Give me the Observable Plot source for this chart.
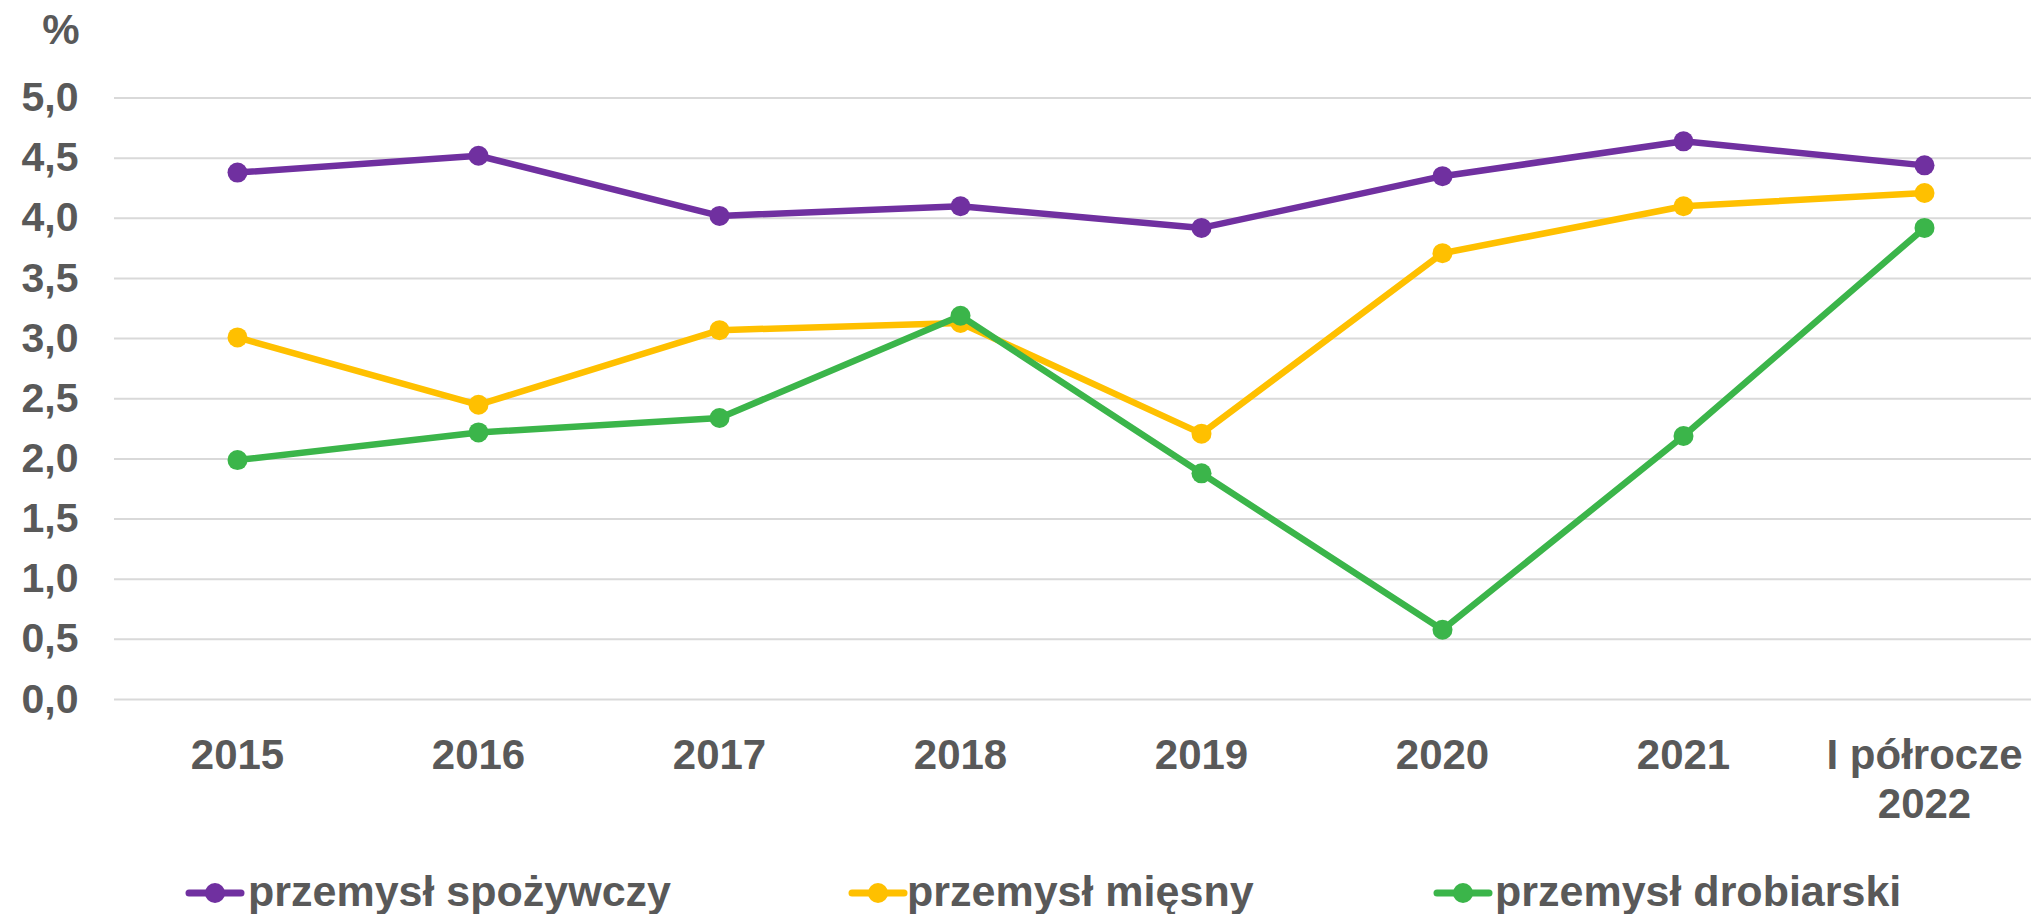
<!DOCTYPE html>
<html>
<head>
<meta charset="utf-8">
<script src="https://cdn.jsdelivr.net/npm/d3@7"></script>
<script src="https://cdn.jsdelivr.net/npm/@observablehq/plot@0.6"></script>
<style>
  html, body { margin: 0; padding: 0; background: #fff; }
  #chart svg { display: block; }
  #legend { display: block; }
</style>
</head>
<body>
<div id="chart"></div>
<div id="legendWrap"></div>
<script>
const categories = ["2015", "2016", "2017", "2018", "2019", "2020", "2021", "I półrocze\n2022"];
const spozywczy  = [4.38, 4.52, 4.02, 4.10, 3.92, 4.35, 4.64, 4.44];
const miesny     = [3.01, 2.45, 3.07, 3.13, 2.21, 3.71, 4.10, 4.21];
const drobiarski = [1.99, 2.22, 2.34, 3.19, 1.88, 0.58, 2.19, 3.92];
const seriesNames  = ["przemysł spożywczy", "przemysł mięsny", "przemysł drobiarski"];
const seriesColors = ["#7030A0", "#FFC000", "#3BB54A"];
const yTicks = [0, 0.5, 1, 1.5, 2, 2.5, 3, 3.5, 4, 4.5, 5];
const yUnit = "%";

const seriesValues = [spozywczy, miesny, drobiarski];
const data = [];
seriesNames.forEach((s, i) => {
  categories.forEach((c, j) => data.push({series: s, cat: c, value: seriesValues[i][j]}));
});

const FONT = "'Liberation Sans', Arial, Helvetica, sans-serif";
const TEXT = "#595959";

const seriesMarks = seriesNames.flatMap((s) => {
  const d = data.filter((r) => r.series === s);
  return [
    Plot.line(d, {x: "cat", y: "value", stroke: "series", strokeWidth: 6.5, strokeLinejoin: "round", strokeLinecap: "round"}),
    Plot.dot(d, {x: "cat", y: "value", fill: "series", r: 10, stroke: null})
  ];
});

const chart = Plot.plot({
  width: 2031,
  height: 840,
  marginLeft: 114,
  marginRight: 0,
  marginTop: 97.5,
  marginBottom: 141,
  style: {fontFamily: FONT, fontWeight: "bold", fontSize: "42px", color: TEXT, background: "#fff", overflow: "visible"},
  x: {type: "point", domain: categories, range: [235, 1926], padding: 0},
  y: {domain: [0, 5]},
  color: {domain: seriesNames, range: seriesColors},
  marks: [
    Plot.gridY(yTicks, {stroke: "#D9D9D9", strokeOpacity: 1, strokeWidth: 2}),
    Plot.axisY(yTicks, {tickSize: 0, tickPadding: 36, fontSize: 41, label: null,
      tickFormat: (d) => d.toFixed(1).replace(".", ",")}),
    Plot.axisX({tickSize: 0, tickPadding: 34, fontSize: 42, lineHeight: 1.18, label: null}),
    ...seriesMarks,
    Plot.text([yUnit], {text: (d) => d, frameAnchor: "top-left", dx: -35, dy: -67, textAnchor: "end", lineAnchor: "middle", fontSize: 42})
  ]
});
document.getElementById("chart").appendChild(chart);

// Legend below the chart
const legendItems = [
  {name: seriesNames[0], color: seriesColors[0], cx: 215, tx: 248},
  {name: seriesNames[1], color: seriesColors[1], cx: 878, tx: 907},
  {name: seriesNames[2], color: seriesColors[2], cx: 1463, tx: 1495}
];
const lsvg = d3.select("#legendWrap").append("svg")
  .attr("id", "legend")
  .attr("width", 2031).attr("height", 74)
  .style("font-family", FONT).style("font-weight", "bold");
const g = lsvg.selectAll("g").data(legendItems).join("g");
g.append("line")
  .attr("x1", (d) => d.cx - 26).attr("x2", (d) => d.cx + 26)
  .attr("y1", 53).attr("y2", 53)
  .attr("stroke", (d) => d.color).attr("stroke-width", 7).attr("stroke-linecap", "round");
g.append("circle")
  .attr("cx", (d) => d.cx).attr("cy", 53).attr("r", 10).attr("fill", (d) => d.color);
g.append("text")
  .attr("x", (d) => d.tx).attr("y", 66)
  .attr("font-size", 43).attr("fill", TEXT)
  .text((d) => d.name);
</script>
</body>
</html>
